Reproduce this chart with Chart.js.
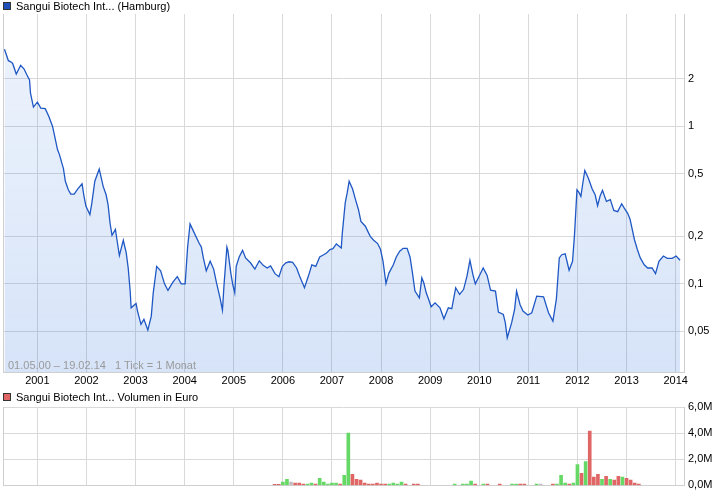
<!DOCTYPE html>
<html>
<head>
<meta charset="utf-8">
<script src="https://cdn.jsdelivr.net/npm/chart.js@4.4.1/dist/chart.umd.min.js"></script>
<style>
  body { margin: 0; background: #fff; font-family: "Liberation Sans", Arial, sans-serif; }
  #wrap { position: relative; width: 726px; height: 496px; overflow: hidden; }
  canvas { position: absolute; left: 0; }
  .leg { position: absolute; left: 3px; font-size: 11px; color: #000; white-space: nowrap; }
  .leg span.box { display: inline-block; width: 6px; height: 6px; border: 1px solid #333; vertical-align: 0px; margin-right: 5px; }
  #foot { position: absolute; left: 8px; top: 359px; font-size: 11px; color: #9a9a9a; white-space: nowrap; }
</style>
</head>
<body>
<div id="wrap">
  <canvas id="kurs" width="726" height="390" style="top:0"></canvas>
  <canvas id="vol" width="726" height="106" style="top:390px"></canvas>
  <div class="leg" style="top:0px"><span class="box" style="background:#1f4fb8"></span>Sangui Biotech Int... (Hamburg)</div>
  <div class="leg" style="top:391px"><span class="box" style="background:#e06666"></span>Sangui Biotech Int... Volumen in Euro</div>
  <div id="foot">01.05.00 &ndash; 19.02.14 &nbsp; 1 Tick = 1 Monat</div>
</div>
<script>
// Zeitachse in Jahren (Dezimal), Kurs in Euro
const priceDates = [
  2000.33, 2000.41, 2000.48, 2000.50, 2000.57, 2000.66, 2000.73, 2000.78, 2000.84, 2000.86, 2000.92,
  2001.00, 2001.07, 2001.16, 2001.23, 2001.31, 2001.34, 2001.41, 2001.45, 2001.50, 2001.53, 2001.57,
  2001.63, 2001.68, 2001.75, 2001.82, 2001.91, 2001.95, 2001.99,
  2002.07, 2002.11, 2002.17, 2002.26, 2002.34, 2002.40, 2002.44, 2002.48, 2002.52, 2002.59, 2002.62,
  2002.67, 2002.75, 2002.81, 2002.85, 2002.89, 2002.91,
  2003.01, 2003.04, 2003.11, 2003.17, 2003.25, 2003.32, 2003.36, 2003.43, 2003.51, 2003.59, 2003.66,
  2003.76, 2003.85, 2003.93,
  2004.01, 2004.06, 2004.11, 2004.19, 2004.29, 2004.34, 2004.38, 2004.44, 2004.52, 2004.59, 2004.65,
  2004.72, 2004.77, 2004.80, 2004.86, 2004.88, 2004.94, 2004.98,
  2005.02, 2005.05, 2005.11, 2005.18, 2005.24, 2005.34, 2005.43, 2005.52, 2005.60, 2005.68, 2005.75,
  2005.84, 2005.92, 2005.99,
  2006.06, 2006.13, 2006.20, 2006.28, 2006.34, 2006.44, 2006.52, 2006.59, 2006.67, 2006.75, 2006.83,
  2006.89, 2006.96,
  2007.02, 2007.09, 2007.19, 2007.21, 2007.27, 2007.31, 2007.35, 2007.42, 2007.49, 2007.54, 2007.59,
  2007.68, 2007.73, 2007.78, 2007.85, 2007.93, 2007.99,
  2008.04, 2008.10, 2008.16, 2008.25, 2008.31, 2008.38, 2008.45, 2008.53, 2008.59, 2008.64, 2008.69,
  2008.78, 2008.83, 2008.87, 2008.92, 2008.97,
  2009.02, 2009.10, 2009.20, 2009.28, 2009.37, 2009.44, 2009.52, 2009.60, 2009.68, 2009.75, 2009.81,
  2009.87, 2009.92,
  2010.00, 2010.08, 2010.16, 2010.23, 2010.33, 2010.39, 2010.49, 2010.53, 2010.57, 2010.66, 2010.72,
  2010.76, 2010.83, 2010.89, 2010.99,
  2011.07, 2011.17, 2011.31, 2011.41, 2011.50, 2011.57, 2011.63, 2011.68, 2011.75, 2011.83, 2011.90,
  2011.94, 2011.99,
  2012.03, 2012.07, 2012.11, 2012.15, 2012.22, 2012.30, 2012.36, 2012.41, 2012.46, 2012.51, 2012.59,
  2012.67, 2012.74, 2012.82, 2012.90, 2012.95,
  2013.02, 2013.07, 2013.16, 2013.22, 2013.28, 2013.36, 2013.43, 2013.52, 2013.59, 2013.66, 2013.75,
  2013.83, 2013.93,
  2014.01, 2014.09
];
const priceValues = [
  3.07, 2.60, 2.53, 2.48, 2.14, 2.43, 2.30, 2.13, 1.96, 1.62, 1.32,
  1.42, 1.30, 1.29, 1.16, 0.995, 0.90, 0.71, 0.66, 0.58, 0.54, 0.447,
  0.395, 0.371, 0.371, 0.399, 0.431, 0.359, 0.310,
  0.275, 0.326, 0.447, 0.535, 0.415, 0.367, 0.318, 0.243, 0.203, 0.221, 0.191,
  0.151, 0.189, 0.157, 0.126, 0.090, 0.0705,
  0.0751, 0.0672, 0.0553, 0.0595, 0.0509, 0.0624, 0.0877, 0.129, 0.121, 0.100, 0.0908,
  0.1025, 0.111, 0.100,
  0.100, 0.171, 0.240, 0.212, 0.182, 0.171, 0.146, 0.121, 0.139, 0.124, 0.101,
  0.0815, 0.068, 0.0967, 0.171, 0.163, 0.117, 0.099,
  0.0877, 0.129, 0.148, 0.163, 0.146, 0.136, 0.124, 0.140, 0.131, 0.126, 0.130,
  0.116, 0.111, 0.129,
  0.136, 0.138, 0.137, 0.126, 0.112, 0.0944, 0.112, 0.132, 0.129, 0.148, 0.153,
  0.157, 0.165,
  0.167, 0.179, 0.169, 0.208, 0.326, 0.377, 0.447, 0.399, 0.333, 0.295, 0.249,
  0.232, 0.215, 0.200, 0.189, 0.180, 0.165,
  0.139, 0.1005, 0.117, 0.132, 0.148, 0.161, 0.168, 0.168, 0.148, 0.117, 0.0899,
  0.0815, 0.109, 0.1015, 0.0877, 0.0796,
  0.0715, 0.0758, 0.0705, 0.060, 0.0705, 0.0695, 0.0944, 0.0856, 0.092, 0.112, 0.141,
  0.1146, 0.100,
  0.112, 0.126, 0.113, 0.0912, 0.0899, 0.0662, 0.064, 0.0567, 0.0455, 0.0567, 0.0689,
  0.0899, 0.074, 0.0672, 0.0634,
  0.0655, 0.0836, 0.0828, 0.0655, 0.058, 0.0796, 0.146, 0.153, 0.155, 0.122, 0.139,
  0.205, 0.395,
  0.380, 0.359, 0.436, 0.524, 0.469, 0.399, 0.367, 0.313, 0.359, 0.392, 0.333,
  0.342, 0.292, 0.287, 0.322, 0.303,
  0.281, 0.258, 0.191, 0.165, 0.146, 0.132, 0.126, 0.126, 0.116, 0.139, 0.150,
  0.145, 0.145,
  0.150, 0.141
];

// Monatsvolumen (Mio. Euro), Richtung: u = steigend, d = fallend, n = unveraendert
const volMonths = [
  '2005-11', '2005-12',
  '2006-01', '2006-02', '2006-03', '2006-04', '2006-05', '2006-06', '2006-07', '2006-08', '2006-09', '2006-10', '2006-11', '2006-12',
  '2007-01', '2007-02', '2007-03', '2007-04', '2007-05', '2007-06', '2007-07', '2007-08', '2007-09', '2007-10', '2007-11', '2007-12',
  '2008-01', '2008-02', '2008-03', '2008-04', '2008-05', '2008-06', '2008-07', '2008-09', '2008-10',
  '2009-07', '2009-09', '2009-10', '2009-11', '2009-12',
  '2010-02', '2010-03', '2010-06', '2010-09', '2010-10', '2010-11', '2010-12',
  '2011-03', '2011-04', '2011-07', '2011-08', '2011-09', '2011-10', '2011-11', '2011-12',
  '2012-01', '2012-02', '2012-03', '2012-04', '2012-05', '2012-06', '2012-07', '2012-08', '2012-09', '2012-10', '2012-11', '2012-12',
  '2013-01', '2013-02', '2013-03', '2013-04'
];
const volValues = [
  0.08, 0.08,
  0.25, 0.47, 0.25, 0.17, 0.17, 0.1, 0.1, 0.17, 0.1, 0.55, 0.25, 0.1,
  0.17, 0.17, 0.1, 0.78, 4.0, 0.85, 0.47, 0.4, 0.17, 0.1, 0.1, 0.17,
  0.1, 0.1, 0.1, 0.17, 0.1, 0.25, 0.1, 0.1, 0.1,
  0.1, 0.1, 0.1, 0.33, 0.1,
  0.1, 0.1, 0.1, 0.1, 0.1, 0.1, 0.1,
  0.1, 0.1, 0.1, 0.1, 0.78, 0.17, 0.1, 0.17,
  1.6, 0.93, 1.83, 4.15, 0.63, 0.85, 0.47, 0.7, 0.47, 0.4, 0.7, 0.63,
  0.55, 0.4, 0.17, 0.1
];
const volDir = [
  'd', 'd',
  'u', 'u', 'n', 'd', 'd', 'd', 'u', 'u', 'd', 'u', 'u', 'u',
  'u', 'u', 'd', 'u', 'u', 'd', 'd', 'd', 'd', 'd', 'd', 'd',
  'd', 'd', 'u', 'u', 'u', 'u', 'd', 'd', 'd',
  'u', 'u', 'u', 'u', 'd',
  'u', 'd', 'd', 'u', 'u', 'd', 'd',
  'u', 'n', 'd', 'u', 'u', 'u', 'd', 'u',
  'u', 'd', 'u', 'd', 'd', 'd', 'u', 'd', 'u', 'd', 'd', 'u',
  'd', 'd', 'd', 'd'
];

const yearTicks = [2001, 2002, 2003, 2004, 2005, 2006, 2007, 2008, 2009, 2010, 2011, 2012, 2013, 2014];
const priceTicks = [0.05, 0.1, 0.2, 0.5, 1, 2];
const volTicks = [0, 2, 4, 6];

// Datumsbereich 01.05.00 - 19.02.14 (Plotrand)
const xMin = 2000.30, xMax = 2014.17;
const gridColor = '#d9d9d9';
const dirColor = { u: '#66d866', d: '#e06666', n: '#c0c0c0' };

function monthToYear(s) {
  const p = s.split('-');
  return parseInt(p[0]) + (parseInt(p[1]) - 1) / 12;
}

// linker Rand des Plots
const leftBorder = {
  id: 'leftBorder',
  afterDraw(chart) {
    const a = chart.chartArea, c = chart.ctx;
    c.save();
    c.strokeStyle = '#cfcfcf';
    c.lineWidth = 1;
    c.beginPath();
    c.moveTo(a.left + 0.5, a.top);
    c.lineTo(a.left + 0.5, a.bottom);
    c.stroke();
    c.restore();
  }
};

Chart.defaults.font.family = '"Liberation Sans", Arial, sans-serif';
Chart.defaults.font.size = 11;
Chart.defaults.color = '#000';

new Chart(document.getElementById('kurs'), {
  type: 'line',
  data: {
    datasets: [{
      data: priceDates.map((d, i) => ({ x: d, y: priceValues[i] })),
      borderColor: '#1f58c4',
      borderWidth: 1.3,
      pointRadius: 0,
      tension: 0,
      fill: 'start',
      backgroundColor: ctx => {
        const a = ctx.chart.chartArea;
        if (!a) return 'rgba(40,110,220,0.14)';
        const g = ctx.chart.ctx.createLinearGradient(0, a.top, 0, a.bottom);
        g.addColorStop(0, 'rgba(40,110,220,0.08)');
        g.addColorStop(1, 'rgba(40,110,220,0.19)');
        return g;
      }
    }]
  },
  options: {
    responsive: false,
    animation: false,
    layout: { padding: { top: 14, left: 3, right: 0, bottom: 0 } },
    plugins: { legend: { display: false }, tooltip: { enabled: false } },
    scales: {
      x: {
        type: 'linear',
        min: xMin,
        max: xMax,
        afterBuildTicks: s => { s.ticks = yearTicks.map(v => ({ value: v })); },
        afterFit: s => { s.height = 18; },
        grid: { color: gridColor, drawTicks: false },
        border: { color: '#cfcfcf' },
        ticks: { padding: 2, maxRotation: 0, autoSkip: false, callback: v => String(v) }
      },
      y: {
        type: 'logarithmic',
        position: 'right',
        min: 0.0276,
        max: 5.14,
        afterBuildTicks: s => { s.ticks = priceTicks.map(v => ({ value: v })); },
        afterFit: s => { s.width = 42; },
        grid: { color: gridColor, drawTicks: false },
        border: { color: '#cfcfcf' },
        ticks: { padding: 4, callback: v => String(v).replace('.', ',') }
      }
    }
  },
  plugins: [leftBorder]
});

new Chart(document.getElementById('vol'), {
  type: 'bar',
  data: {
    datasets: [{
      data: volMonths.map((m, i) => ({ x: monthToYear(m), y: volValues[i] })),
      backgroundColor: volDir.map(d => dirColor[d]),
      barThickness: 3,
      borderWidth: 0
    }]
  },
  options: {
    responsive: false,
    animation: false,
    layout: { padding: { top: 17, left: 3, right: 0, bottom: 0 } },
    plugins: { legend: { display: false }, tooltip: { enabled: false } },
    scales: {
      x: {
        type: 'linear',
        min: xMin,
        max: xMax,
        offset: false,
        afterBuildTicks: s => { s.ticks = yearTicks.map(v => ({ value: v })); },
        afterFit: s => { s.height = 9; },
        grid: { color: gridColor, drawTicks: false, offset: false },
        border: { color: '#cfcfcf' },
        ticks: { display: false }
      },
      y: {
        position: 'right',
        min: 0,
        max: 6,
        afterBuildTicks: s => { s.ticks = volTicks.map(v => ({ value: v })); },
        afterFit: s => { s.width = 42; },
        grid: { color: gridColor, drawTicks: false },
        border: { color: '#cfcfcf' },
        ticks: { padding: 4, callback: v => v.toFixed(1).replace('.', ',') + 'M' }
      }
    }
  },
  plugins: [leftBorder]
});
</script>
</body>
</html>
